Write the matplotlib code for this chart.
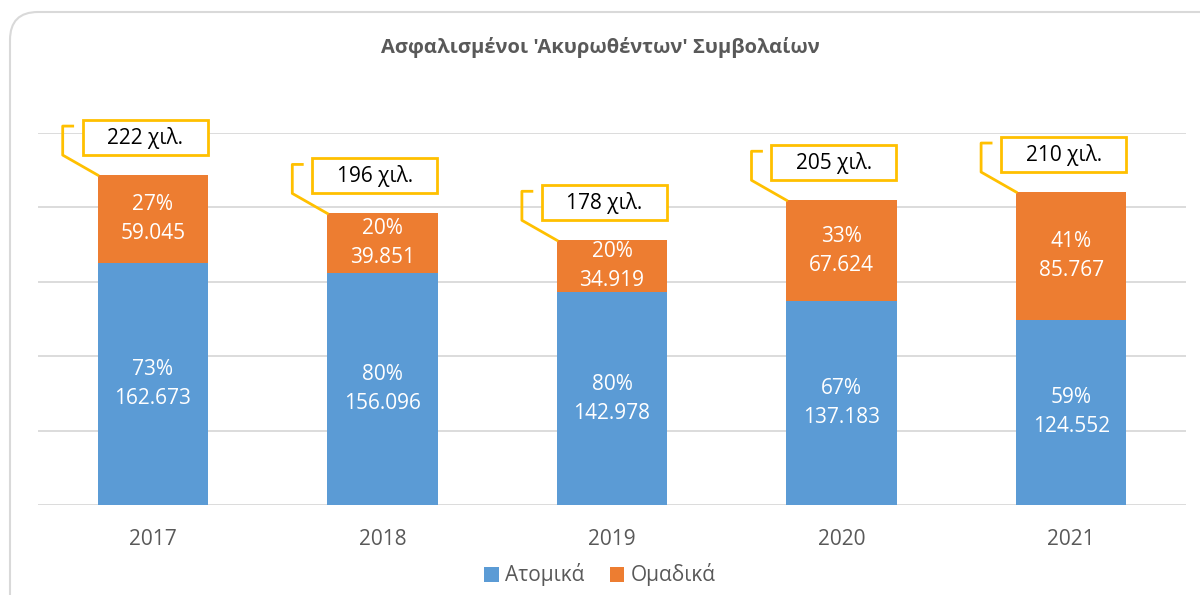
import matplotlib.pyplot as plt
from matplotlib.patches import Rectangle, FancyBboxPatch
from matplotlib.lines import Line2D
from matplotlib.transforms import IdentityTransform

plt.rcParams['font.family'] = ['Open Sans', 'DejaVu Sans']

# Datos
anios = ['2017', '2018', '2019', '2020', '2021']
atomika = [162673, 156096, 142978, 137183, 124552]
omadika = [59045, 39851, 34919, 67624, 85767]
series = ['Ατομικά', 'Ομαδικά']
titulo = "Ασφαλισμένοι 'Ακυρωθέντων' Συμβολαίων"

azul = '#5B9BD5'
naranja = '#ED7D31'
amarillo = '#FFC000'
gris = '#595959'

fig = plt.figure(figsize=(12, 5.95), dpi=100)
ax = fig.add_axes([38 / 1200, 90 / 595, 1148 / 1200, 372 / 595])

x = list(range(len(anios)))
ancho = 0.48
totales = [a + o for a, o in zip(atomika, omadika)]

ax.bar(x, atomika, ancho, color=azul, label=series[0], zorder=2)
ax.bar(x, omadika, ancho, bottom=atomika, color=naranja, label=series[1], zorder=2)

ax.set_xlim(-0.5, len(anios) - 0.5)
ax.set_ylim(0, 250000)
ax.set_yticks(range(0, 250001, 50000))
ax.yaxis.grid(True, color='#D9D9D9', linewidth=1.3, zorder=0)
ax.tick_params(axis='y', left=False, labelleft=False)
ax.set_xticks(x)
ax.set_xticklabels(anios, fontsize=15, color=gris)
ax.tick_params(axis='x', length=0, pad=17)
for s in ax.spines.values():
    s.set_visible(False)
ax.set_facecolor('none')

def fmt(v):
    return f'{v:,}'.replace(',', '.')

# Etiquetas dentro de las barras
for i in x:
    t = totales[i]
    a, o = atomika[i], omadika[i]
    ax.text(i, a / 2, f'{round(a / t * 100)}%\n{fmt(a)}', ha='center', va='center',
            color='white', fontsize=15, linespacing=1.5, zorder=3)
    ax.text(i, a + o / 2, f'{round(o / t * 100)}%\n{fmt(o)}', ha='center', va='center',
            color='white', fontsize=15, linespacing=1.5, zorder=3)

# Cajas con totales y lineas guia (en pixeles)
for i in x:
    px, py = ax.transData.transform((i - ancho / 2, totales[i]))
    guia = Line2D([px, px - 35, px - 35, px - 25], [py, py + 20, py + 49, py + 49],
                  color=amarillo, linewidth=2, transform=IdentityTransform())
    fig.add_artist(guia)
    caja = Rectangle((px - 15, py + 20), 125, 35, facecolor='white', edgecolor=amarillo,
                     linewidth=2, transform=IdentityTransform())
    fig.add_artist(caja)
    fig.text((px - 15 + 62.5) / 1200, (py + 37.5) / 595, f'{round(totales[i] / 1000)} χιλ.',
             ha='center', va='center', fontsize=15, color='black')

# Marco redondeado
marco = FancyBboxPatch((10, -40), 1240, 623, boxstyle='round,pad=0,rounding_size=28',
                       facecolor='none', edgecolor='#D9D9D9', linewidth=1.5,
                       transform=IdentityTransform())
fig.add_artist(marco)

fig.text(0.5, 1 - 48 / 595, titulo, ha='center', va='center', fontsize=14.5,
         fontweight='bold', color=gris)

fig.legend(loc='center', bbox_to_anchor=(0.5, 20 / 595), ncol=2, frameon=False,
           fontsize=15, labelcolor=gris, handlelength=0.7, handleheight=0.7,
           handletextpad=0.3, columnspacing=1.2)

fig.savefig('out.png', dpi=100)
